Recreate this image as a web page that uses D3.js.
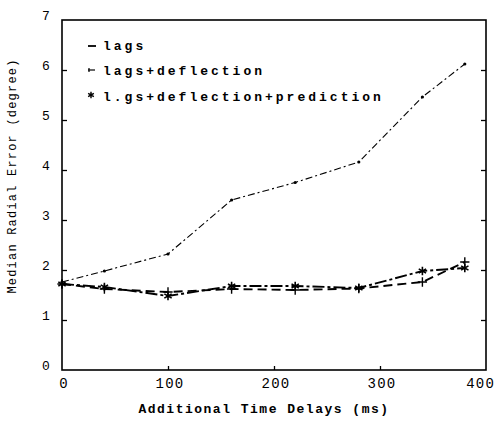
<!DOCTYPE html>
<html><head><meta charset="utf-8">
<script src="https://cdn.jsdelivr.net/npm/d3@7"></script>
<style>body{margin:0;background:#fff}</style>
</head><body>
<script>
const delays = [0, 40, 100, 160, 220, 280, 340, 380];
const lags = [1.76, 1.98, 2.32, 3.4, 3.75, 4.16, 5.46, 6.12];
const lagsDeflection = [1.72, 1.62, 1.56, 1.62, 1.6, 1.63, 1.76, 2.16];
const lagsDeflectionPrediction = [1.72, 1.66, 1.48, 1.68, 1.68, 1.64, 1.98, 2.04];
const seriesNames = ["lags", "lags+deflection", "l.gs+deflection+prediction"];
const xTicks = [0, 100, 200, 300, 400];
const yTicks = [0, 1, 2, 3, 4, 5, 6, 7];

const W = 497, H = 422;
const svg = d3.select("body").append("svg").attr("width", W).attr("height", H);
const x = d3.scaleLinear().domain([0, 400]).range([62, 486]);
const y = d3.scaleLinear().domain([0, 7]).range([370, 20]);
const font = "'Liberation Mono', 'DejaVu Sans Mono', monospace";

// frame
svg.append("rect").attr("x", 62).attr("y", 20).attr("width", 424).attr("height", 350)
  .attr("fill", "none").attr("stroke", "#000").attr("stroke-width", 1.6);

// left axis ticks (inward)
svg.append("g").attr("transform", "translate(62,0)")
  .call(d3.axisRight(y).tickValues(yTicks.slice(1, 7)).tickSize(5).tickFormat(""))
  .call(g => g.select(".domain").remove())
  .selectAll("line").attr("stroke", "#000").attr("stroke-width", 1.3);
// right axis ticks (inward)
svg.append("g").attr("transform", "translate(486,0)")
  .call(d3.axisLeft(y).tickValues(yTicks.slice(1, 7)).tickSize(5).tickFormat(""))
  .call(g => g.select(".domain").remove())
  .selectAll("line").attr("stroke", "#000").attr("stroke-width", 1.3);
// bottom ticks (inward)
svg.append("g").attr("transform", "translate(0,370)")
  .call(d3.axisTop(x).tickValues(xTicks.slice(1, 4)).tickSize(4).tickFormat(""))
  .call(g => g.select(".domain").remove())
  .selectAll("line").attr("stroke", "#000").attr("stroke-width", 1.3);

// y tick labels
svg.append("g").selectAll("text").data(yTicks).join("text")
  .attr("x", 46).attr("y", d => y(d) - 3).attr("text-anchor", "middle")
  .attr("dominant-baseline", "middle")
  .attr("font-family", font).attr("font-size", 13).attr("fill", "#000")
  .text(d => d);
// x tick labels
svg.append("g").selectAll("text").data(xTicks).join("text")
  .attr("x", d => d === 400 ? 495 : x(d) + 2).attr("y", 388)
  .attr("text-anchor", d => d === 400 ? "end" : "middle")
  .attr("font-family", font).attr("font-size", 14).attr("letter-spacing", 1.2).attr("fill", "#000")
  .text(d => d);

// axis titles
svg.append("text").attr("x", 264).attr("y", 413).attr("text-anchor", "middle")
  .attr("font-family", font).attr("font-size", 13).attr("letter-spacing", 1.5)
  .attr("font-weight", "bold").attr("fill", "#000")
  .text("Additional Time Delays (ms)");
svg.append("text").attr("transform", "translate(16,176) rotate(-90)").attr("text-anchor", "middle")
  .attr("font-family", font).attr("font-size", 12).attr("letter-spacing", 1.2)
  .attr("fill", "#000")
  .text("Median Radial Error (degree)");

// series
const line = d3.line().x((d, i) => x(delays[i])).y(d => y(d));
const series = [
  {vals: lags, dash: "7,3,2,3", w: 1.1},
  {vals: lagsDeflection, dash: "9,5", w: 1.9},
  {vals: lagsDeflectionPrediction, dash: "12,3,3,3", w: 1.9}
];
series.forEach(s => {
  svg.append("path").datum(s.vals).attr("d", line).attr("fill", "none")
    .attr("stroke", "#000").attr("stroke-width", s.w).attr("stroke-dasharray", s.dash);
});
// point markers
svg.append("g").selectAll("circle").data(lags).join("circle")
  .attr("cx", (d, i) => x(delays[i])).attr("cy", d => y(d)).attr("r", 1.6).attr("fill", "#000");
const plus = d3.symbol().type(d3.symbolPlus).size(30)();
const star = d3.symbol().type(d3.symbolAsterisk).size(50)();
svg.append("g").selectAll("path").data(lagsDeflection).join("path")
  .attr("transform", (d, i) => `translate(${x(delays[i])},${y(d)})`)
  .attr("d", plus).attr("fill", "none").attr("stroke", "#000").attr("stroke-width", 1.4);
svg.append("g").selectAll("path").data(lagsDeflectionPrediction).join("path")
  .attr("transform", (d, i) => `translate(${x(delays[i])},${y(d)})`)
  .attr("d", star).attr("fill", "none").attr("stroke", "#000").attr("stroke-width", 1.6);

// legend
const leg = svg.append("g");
const legY = [45, 70, 96];
leg.selectAll("text.name").data(seriesNames).join("text").attr("class", "name")
  .attr("x", 103).attr("y", (d, i) => legY[i] + 5)
  .attr("font-family", font).attr("font-size", 13).attr("font-weight", "bold")
  .attr("letter-spacing", 3).attr("fill", "#000").text(d => d);
leg.append("line").attr("x1", 88).attr("x2", 96).attr("y1", legY[0] + 1).attr("y2", legY[0] + 1)
  .attr("stroke", "#000").attr("stroke-width", 1.8);
leg.append("line").attr("x1", 88).attr("x2", 95).attr("y1", legY[1]).attr("y2", legY[1])
  .attr("stroke", "#000").attr("stroke-width", 1.2);
leg.append("line").attr("x1", 89).attr("x2", 89).attr("y1", legY[1] - 2).attr("y2", legY[1] + 2)
  .attr("stroke", "#000").attr("stroke-width", 1.2);
leg.append("path").attr("transform", `translate(91,${legY[2] - 1})`)
  .attr("d", d3.symbol().type(d3.symbolAsterisk).size(30)())
  .attr("fill", "none").attr("stroke", "#000").attr("stroke-width", 1.4);
</script>
</body></html>
